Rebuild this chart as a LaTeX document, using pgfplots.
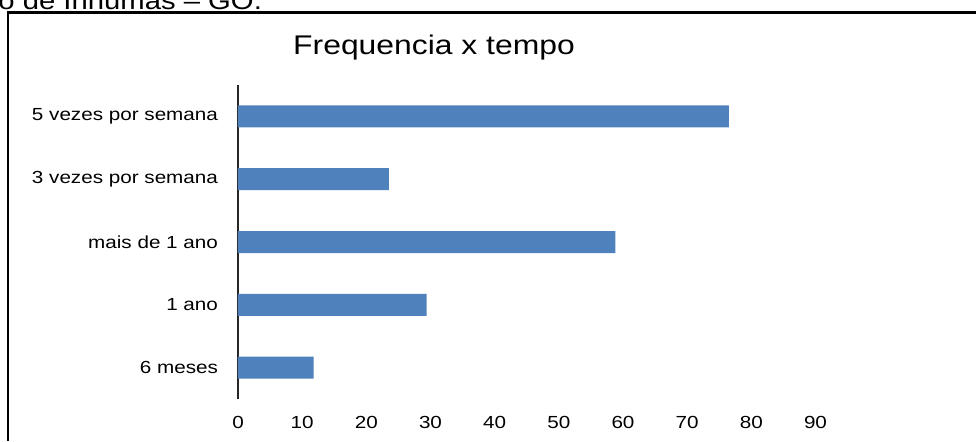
\documentclass[border=0pt]{standalone}
\usepackage{fontspec}
\setmainfont{Liberation Sans}[FakeStretch=1.18]
\usepackage{pgfplots}
\pgfplotsset{compat=1.18}
\definecolor{barblue}{HTML}{4F81BD}
\begin{document}
\begin{tikzpicture}[x=1pt,y=1pt]
\useasboundingbox (0,0) rectangle (488,220.5);
\begin{scope}
\clip (0,0) rectangle (488,220.5);
\node[anchor=base west, inner sep=0, font=\fontsize{12.4}{14}\selectfont] at (-1,215.75) {o de Inhumas – GO.};
\end{scope}
\draw[line width=1.25pt] (4,0) -- (4,214.25) -- (490,214.25);
\node[anchor=base, inner sep=0, font=\fontsize{13.5}{16}\selectfont] at (217,193.5) {Frequencia x tempo};
\begin{axis}[
  at={(119pt,21pt)}, anchor=south west, scale only axis,
  width=288.75pt, height=157pt,
  xmin=0, xmax=90, ymin=-0.5, ymax=4.5,
  xbar, bar width=11pt,
  xtick={0,10,...,90}, ytick={0,1,2,3,4},
  yticklabels={6 meses,1 ano,mais de 1 ano,3 vezes por semana,5 vezes por semana},
  axis lines*=left,
  x axis line style={draw=none},
  y axis line style={line width=1pt, color=black!85},
  major tick length=0pt, tick style={draw=none},
  /pgf/number format/assume math mode=true,
  ticklabel style={font=\fontsize{8.75}{10}\selectfont},
  xticklabel style={yshift=-5pt},
  yticklabel style={xshift=-6.5pt},
  clip=false,
]
\addplot[fill=barblue, draw=none] coordinates {(11.8,0) (29.4,1) (58.8,2) (23.5,3) (76.5,4)};
\end{axis}
\end{tikzpicture}
\end{document}
